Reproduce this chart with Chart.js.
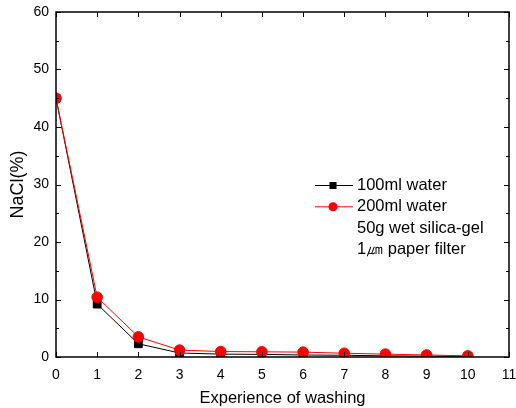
<!DOCTYPE html>
<html>
<head>
<meta charset="utf-8">
<script src="https://cdn.jsdelivr.net/npm/chart.js@4.4.0/dist/chart.umd.min.js"></script>
<style>
  html, body { margin: 0; padding: 0; background: #fff; }
  #wrap { width: 516px; height: 408px; }
</style>
</head>
<body>
<div id="wrap"><canvas id="chart" width="516" height="408"></canvas></div>
<script>
// washing count on x, NaCl % on y
const washes = [0, 1, 2, 3, 4, 5, 6, 7, 8, 9, 10];
const water100 = [45, 9.2, 2.3, 0.7, 0.5, 0.45, 0.35, 0.3, 0.2, 0.15, 0.1];
const water200 = [45, 10.4, 3.5, 1.2, 0.95, 0.9, 0.85, 0.65, 0.5, 0.35, 0.2];
const seriesNames = ["100ml water", "200ml water"];
const noteLines = ["50g wet silica-gel", "1\u339B paper filter"];
const xTicks = [0, 1, 2, 3, 4, 5, 6, 7, 8, 9, 10, 11];
const yTicks = [0, 10, 20, 30, 40, 50, 60];

const FONT = "'Liberation Sans', Arial, sans-serif";

function toPoints(vals) {
    return washes.map((w, i) => ({ x: w, y: vals[i] }));
}

// frame + inward ticks on all four sides
const frameTicks = {
    id: "frameTicks",
    afterDatasetsDraw(chart) {
        const { ctx, chartArea: a, scales } = chart;
        const xs = scales.x, ys = scales.y;
        ctx.save();
        ctx.strokeStyle = "#000";
        ctx.lineWidth = 1.5;
        ctx.strokeRect(a.left, a.top, a.right - a.left, a.bottom - a.top);
        ctx.lineWidth = 1;
        ctx.beginPath();
        xTicks.forEach(v => {
            const px = Math.round(xs.getPixelForValue(v)) + 0.5;
            ctx.moveTo(px, a.bottom); ctx.lineTo(px, a.bottom - 5);
            ctx.moveTo(px, a.top); ctx.lineTo(px, a.top + 5);
        });
        yTicks.forEach(v => {
            const py = Math.round(ys.getPixelForValue(v)) + 0.5;
            ctx.moveTo(a.left, py); ctx.lineTo(a.left + 5, py);
            ctx.moveTo(a.right, py); ctx.lineTo(a.right - 5, py);
        });
        for (let v = 5; v < 60; v += 10) {
            const py = Math.round(ys.getPixelForValue(v)) + 0.5;
            ctx.moveTo(a.left, py); ctx.lineTo(a.left + 3, py);
            ctx.moveTo(a.right, py); ctx.lineTo(a.right - 3, py);
        }
        ctx.stroke();
        ctx.restore();
    }
};

// legend box in the middle right, plus the two note lines
const sideLegend = {
    id: "sideLegend",
    afterDraw(chart) {
        const { ctx } = chart;
        const x0 = 315, x1 = 353, tx = 357;
        let y = 185.5;
        const gap = 21.3;
        ctx.save();
        ctx.font = "16.5px " + FONT;
        ctx.textBaseline = "middle";
        ctx.fillStyle = "#000";
        chart.data.datasets.forEach((ds, i) => {
            const yy = y + i * gap;
            ctx.strokeStyle = ds.borderColor;
            ctx.lineWidth = 1;
            ctx.beginPath();
            ctx.moveTo(x0, yy); ctx.lineTo(x1, yy);
            ctx.stroke();
            ctx.fillStyle = ds.pointBackgroundColor;
            if (ds.pointStyle === "rect") {
                ctx.fillRect(329.5, yy - 3.5, 7, 7);
            } else {
                ctx.beginPath();
                ctx.arc(333, yy, 4.5, 0, Math.PI * 2);
                ctx.fill();
            }
            ctx.fillStyle = "#000";
            ctx.fillText(ds.label, tx, yy);
        });
        noteLines.forEach((t, i) => {
            ctx.fillText(t, tx, y + (i + 2) * gap);
        });
        ctx.restore();
    }
};

new Chart(document.getElementById("chart"), {
    type: "line",
    data: {
        datasets: [
            {
                label: seriesNames[0],
                data: toPoints(water100),
                borderColor: "#000",
                backgroundColor: "#000",
                pointBackgroundColor: "#000",
                pointBorderColor: "#000",
                pointStyle: "rect",
                pointRadius: 5.5,
                borderWidth: 1,
                order: 2
            },
            {
                label: seriesNames[1],
                data: toPoints(water200),
                borderColor: "#ff0000",
                backgroundColor: "#ff0000",
                pointBackgroundColor: "#ff0000",
                pointBorderColor: "#ff0000",
                pointStyle: "circle",
                pointRadius: 5.3,
                borderWidth: 1,
                order: 1
            }
        ]
    },
    options: {
        responsive: false,
        animation: false,
        layout: { padding: { left: 0, right: 7, top: 12, bottom: 0 } },
        plugins: {
            legend: { display: false },
            tooltip: { enabled: false }
        },
        scales: {
            x: {
                type: "linear",
                min: 0,
                max: 11,
                afterFit(s) {
                    s.height = 51;
                    s.paddingLeft = 0;
                    s.paddingRight = 0;
                },
                afterBuildTicks(s) { s.ticks = xTicks.map(v => ({ value: v })); },
                grid: { display: false, drawTicks: false },
                border: { display: false },
                ticks: {
                    color: "#000",
                    padding: 10,
                    font: { family: FONT, size: 14 }
                },
                title: {
                    display: true,
                    text: "Experience of washing",
                    color: "#000",
                    padding: { top: 4, bottom: 0 },
                    font: { family: FONT, size: 16.5 }
                }
            },
            y: {
                type: "linear",
                min: 0,
                max: 60,
                afterFit(s) {
                    s.width = 56;
                    s.paddingTop = 0;
                    s.paddingBottom = 0;
                },
                afterBuildTicks(s) { s.ticks = yTicks.map(v => ({ value: v })); },
                grid: { display: false, drawTicks: false },
                border: { display: false },
                ticks: {
                    color: "#000",
                    padding: 7,
                    font: { family: FONT, size: 14 }
                },
                title: {
                    display: true,
                    text: "NaCl(%)",
                    color: "#000",
                    padding: { top: 7, bottom: 0 },
                    font: { family: FONT, size: 18 }
                }
            }
        }
    },
    plugins: [frameTicks, sideLegend]
});
</script>
</body>
</html>
